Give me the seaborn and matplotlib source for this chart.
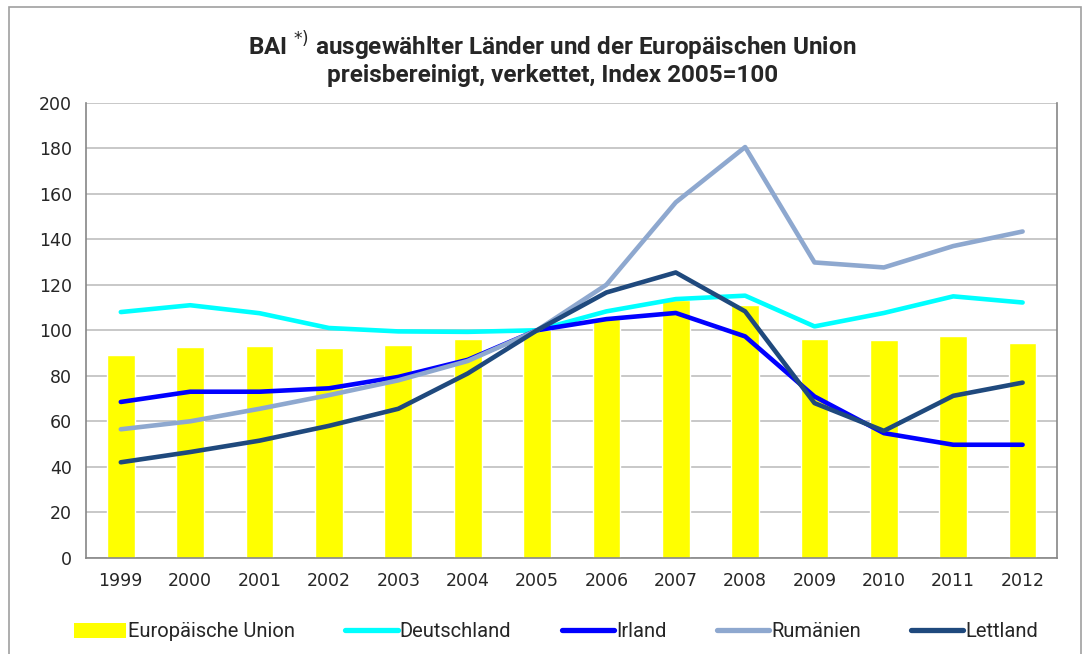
import numpy as np
import pandas as pd
import matplotlib
matplotlib.use("Agg")
import matplotlib.pyplot as plt
import seaborn as sns
from matplotlib.patches import Patch, Rectangle
from matplotlib.lines import Line2D
from matplotlib.ticker import FixedLocator

# --- data ---
years = [1999, 2000, 2001, 2002, 2003, 2004, 2005, 2006, 2007, 2008, 2009, 2010, 2011, 2012]
eu = [89.2, 92.7, 93.2, 92.3, 93.6, 96.3, 100, 105.5, 113.4, 111.2, 96.1, 95.8, 97.3, 94.6]
deutschland = [108, 111, 107.5, 101, 99.5, 99.3, 100, 108.3, 113.7, 115.2, 101.7, 107.6, 114.9, 112.2]
irland = [68.5, 73, 73, 74.5, 79.5, 87, 100, 104.9, 107.6, 97.3, 70.9, 54.8, 49.7, 49.7]
rumaenien = [56.5, 60, 65.5, 71.5, 78, 86.5, 100, 120, 156.2, 180.5, 129.8, 127.6, 137, 143.4]
lettland = [42, 46.5, 51.5, 58, 65.5, 81, 100, 116.6, 125.4, 108.3, 68, 55.8, 71.2, 77]

series = [
    ("Deutschland", deutschland, "#00FFFF"),
    ("Irland", irland, "#0000FF"),
    ("Rumänien", rumaenien, "#8EA8CF"),
    ("Lettland", lettland, "#1F497D"),
]

sns.set_style("white")
plt.rcParams["font.family"] = ["DejaVu Sans"]
narrow = ["Liberation Sans Narrow", "Roboto", "DejaVu Sans"]

fig = plt.figure(figsize=(10.9, 6.54), dpi=100)
ax = fig.add_axes([0.079, 0.147, 0.891, 0.696])

pos = np.arange(len(years))
sns.barplot(x=pos, y=eu, color="#FFFF00", width=0.4, saturation=1, ax=ax, zorder=2, native_scale=True)

for name, vals, col in series:
    sns.lineplot(x=pos, y=vals, color=col, lw=3.3, ax=ax, zorder=3,
                 solid_capstyle="round", solid_joinstyle="round")

ax.set_xlim(-0.5, len(years) - 0.5)
ax.set_ylim(0, 200)
ax.set_yticks(np.arange(0, 201, 20))
ax.set_xticks(pos)
ax.set_xticklabels([str(y) for y in years])
ax.xaxis.set_minor_locator(FixedLocator(np.arange(-0.5, len(years), 1)))
ax.tick_params(axis="x", which="major", length=0, pad=10, labelsize=12.5)
ax.tick_params(axis="x", which="minor", length=6, color="#868686", width=1, direction="out")
ax.tick_params(axis="y", length=6, color="#868686", width=1, labelsize=12.5, pad=4)
ax.yaxis.grid(True, color="#BFBFBF", lw=1.2, zorder=0)
ax.set_axisbelow(True)
for side in ["left", "bottom", "right"]:
    ax.spines[side].set_color("#868686")
    ax.spines[side].set_linewidth(1.2)
ax.spines["top"].set_visible(False)
ax.set_xlabel("")
ax.set_ylabel("")

fig.text(0.507, 0.93, r"BAI $^{*)}$ ausgewählter Länder und der Europäischen Union",
         ha="center", va="center", fontsize=17.5, fontweight="bold", family=narrow)
fig.text(0.507, 0.885, "preisbereinigt, verkettet, Index 2005=100",
         ha="center", va="center", fontsize=17.5, fontweight="bold", family=narrow)

handles = [Patch(facecolor="#FFFF00", edgecolor="none")]
labels = ["Europäische Union"]
for name, vals, col in series:
    handles.append(Line2D([0], [0], color=col, lw=3.8))
    labels.append(name)
leg = fig.legend(handles, labels, loc="center", bbox_to_anchor=(0.51, 0.034), ncol=5,
                 frameon=False, handlelength=2.6, handleheight=0.8, handletextpad=0.1,
                 columnspacing=2.5, prop={"family": narrow, "size": 14.5})

fig.patches.append(Rectangle((0.008, -0.01), 0.984, 1.0, transform=fig.transFigure,
                             fill=False, edgecolor="#A0A0A0", lw=1.2))

fig.savefig("out.png", dpi=100)
